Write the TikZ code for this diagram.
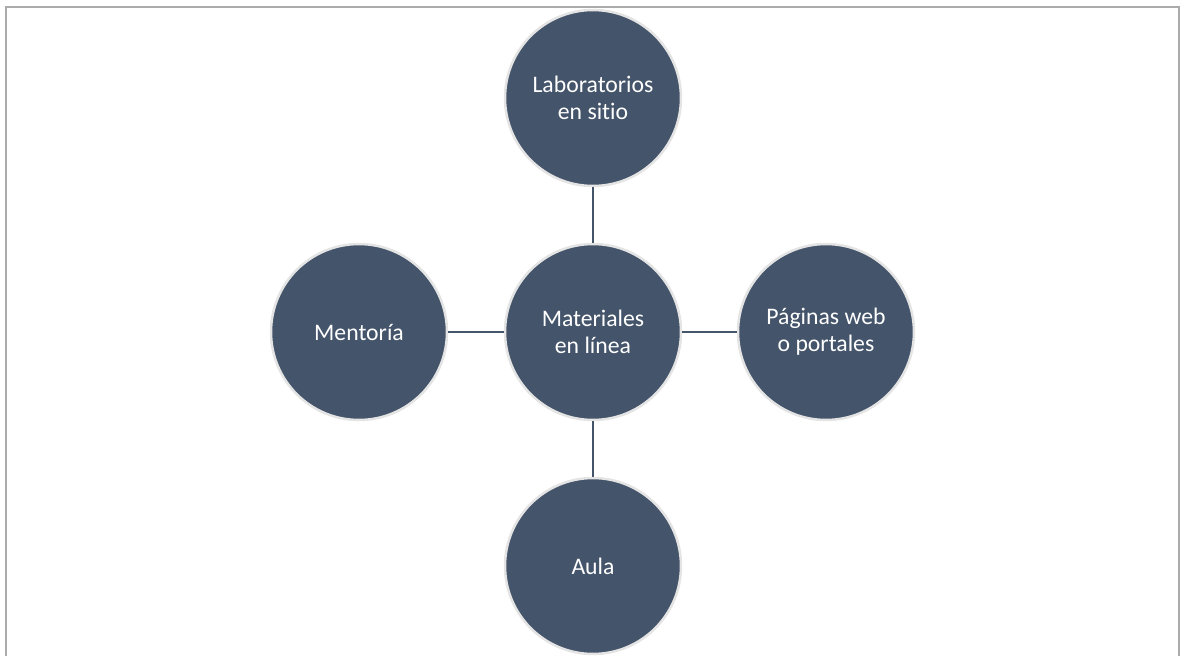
\documentclass[tikz,border=0pt]{standalone}
\usepackage{fontspec}
\setmainfont{Carlito}[Ligatures=CommonOff]
\usetikzlibrary{positioning}
\definecolor{slateblue}{HTML}{44546A}
\definecolor{ringgray}{HTML}{E4E4E4}
\definecolor{framegray}{HTML}{ABABAB}

\begin{document}
\begin{tikzpicture}[x=0.02cm, y=-0.02cm,
    bubble/.style={circle, fill=slateblue, draw=ringgray, line width=0.05cm,
        minimum size=3.52cm, inner sep=0pt, text=white, align=center,
        font=\fontsize{13.5}{15.2}\selectfont},
    link/.style={draw=slateblue, line width=0.04cm}]
    \useasboundingbox (0,0) rectangle (1181,656);

    % Frame (open at the bottom)
    \draw[framegray, line width=0.04cm] (6,700) -- (6,7) -- (1179,7) -- (1179,700);

    % Circles
    \node[bubble] (hub) at (593,332) {Materiales\\en línea};
    \node[bubble] (labs) at (593,98) {Laboratorios\\en sitio};
    \node[bubble] (aula) at (593,566) {Aula};
    \node[bubble] (mentor) at (359,332) {Mentoría};
    \node[bubble] (webs) at (826,332) {Páginas web\\o portales};

    % Connectors
    \draw[link] (labs) -- (hub);
    \draw[link] (hub) -- (aula);
    \draw[link] (mentor) -- (hub);
    \draw[link] (hub) -- (webs);
\end{tikzpicture}
\end{document}
